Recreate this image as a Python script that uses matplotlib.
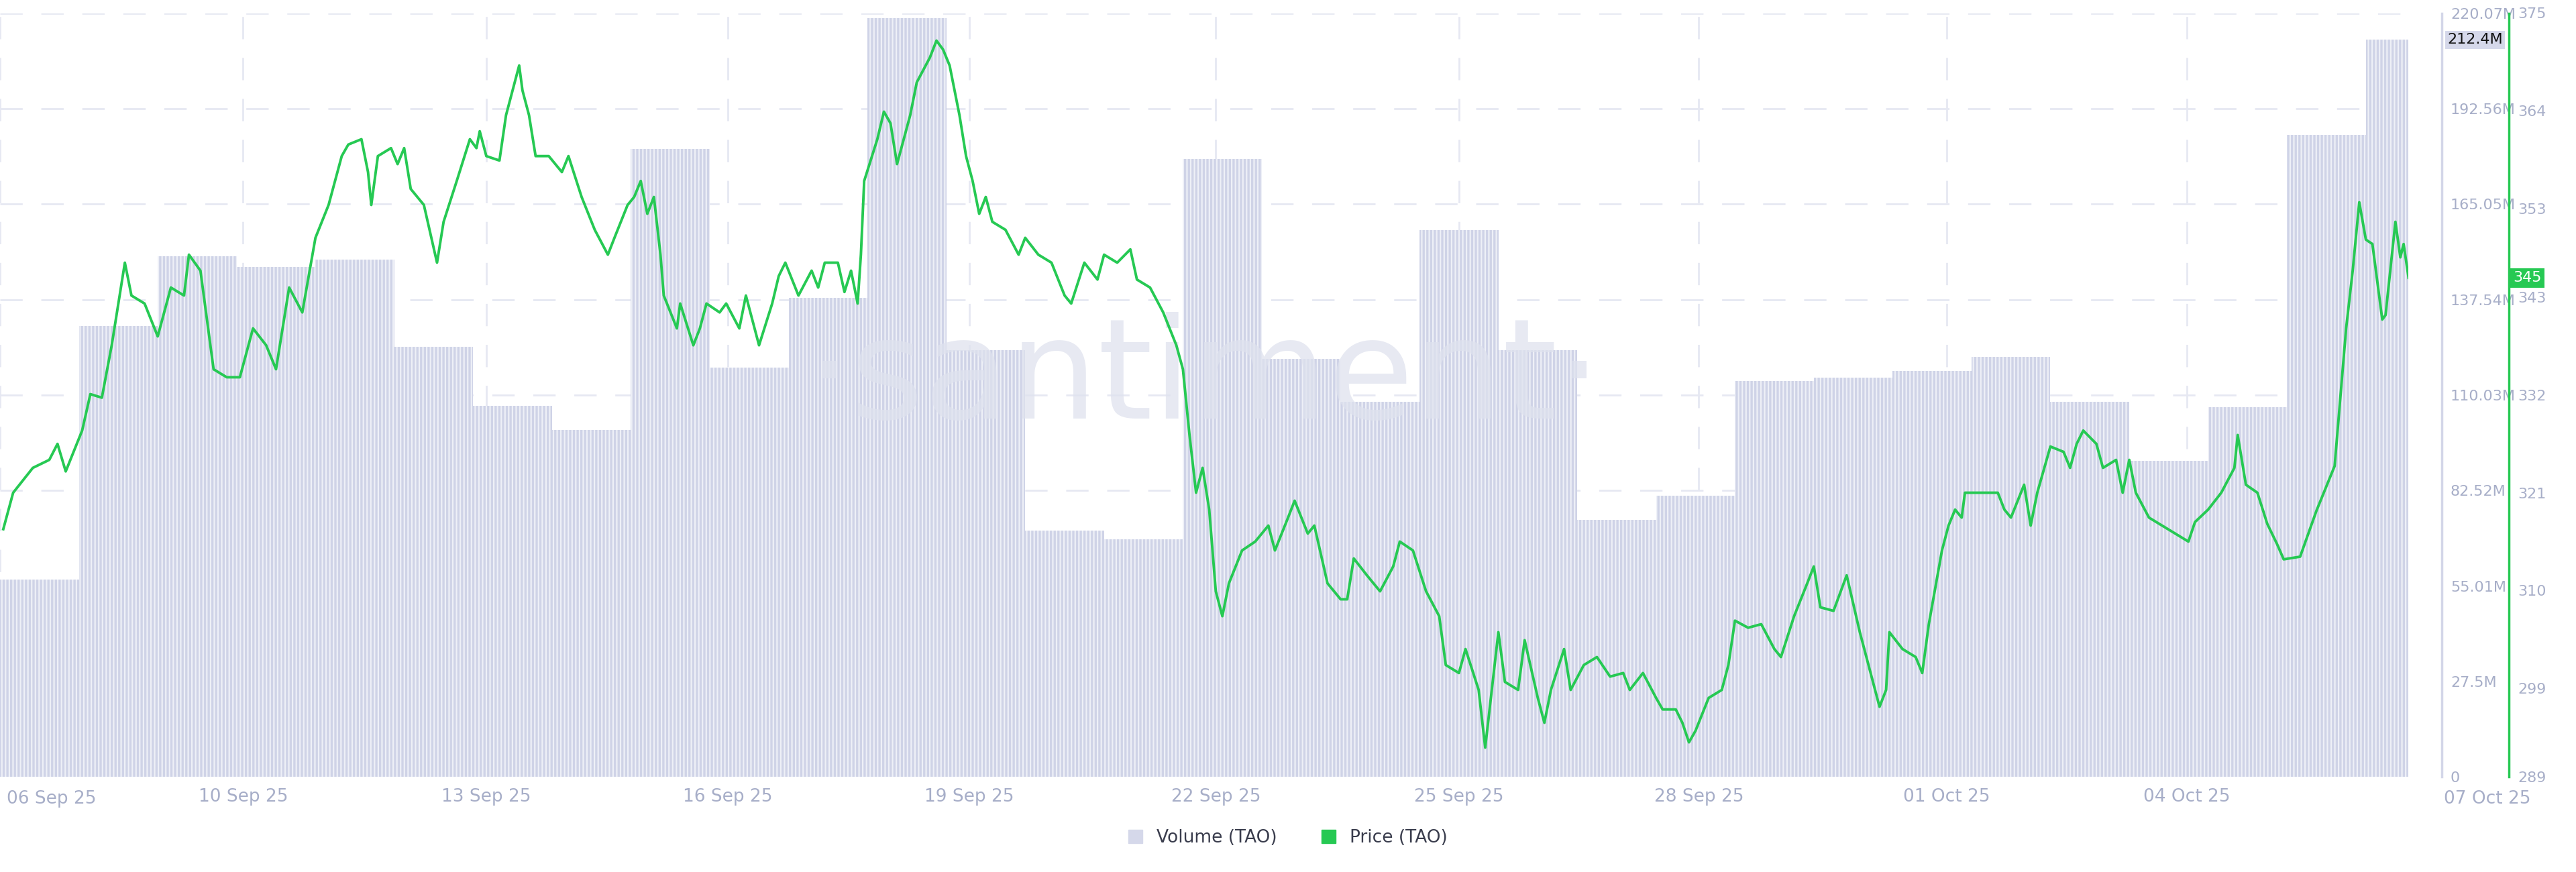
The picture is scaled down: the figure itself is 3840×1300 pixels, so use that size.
import numpy as np
import matplotlib.pyplot as plt
import matplotlib.patches as mpatches

plt.rcParams["hatch.linewidth"] = 1.6

# daily volume (TAO), millions, one bar per day
volume_m = [56.9, 130, 150, 147, 149, 124, 107, 100, 181, 118, 138, 218.6, 123, 71,
            68.5, 178, 120.5, 108, 157.5, 123, 74, 81, 114, 115, 117, 121, 108, 91,
            106.5, 185, 212.4]

# price (TAO): hours since chart start, price in USD
price_hours = [1, 4, 10, 15, 17.5, 20, 25, 27.5, 31, 34, 38, 40, 44, 48, 52, 56, 57.5, 61, 65, 69,
               73, 77, 81, 84, 88, 92, 96, 100, 104, 106, 110, 112, 113, 115, 119, 121, 123, 125, 129, 133,
               135, 139, 143, 145, 146, 148, 152, 154, 156, 158, 159, 161, 163, 167, 171, 173, 177, 181, 185, 187,
               191, 193, 195, 197, 199, 201, 202, 206, 207, 211, 213, 215, 219, 221, 225, 227, 231, 235, 237, 239,
               243, 247, 249, 251, 255, 257, 259, 261, 262, 263, 267, 269, 271, 273, 277, 279, 283, 285, 287, 289,
               292, 294, 296, 298, 300, 302, 306, 310, 312, 316, 320, 324, 326, 330, 334, 336, 340, 344, 346, 350,
               354, 358, 360, 362, 364, 366, 368, 370, 372, 374, 378, 382, 386, 388, 392, 394, 398, 400, 404, 408,
               410, 412, 416, 420, 424, 426, 430, 434, 438, 440, 444, 446, 450, 452, 454, 456, 458, 462, 464, 468,
               470, 472, 476, 478, 482, 486, 490, 494, 496, 500, 504, 506, 510, 512, 514, 516, 520, 524, 526, 528,
               532, 536, 540, 542, 546, 550, 552, 554, 558, 562, 566, 570, 572, 574, 575, 579, 583, 585, 587, 591,
               593, 595, 597, 598, 604, 608, 610, 612, 616, 618, 620, 624, 628, 630, 632, 634, 638, 640, 644, 646,
               648, 650, 654, 658, 662, 666, 668, 672, 676, 680, 681, 683.5, 687, 690, 693, 695, 700, 705, 710.5, 714,
               716, 718, 720, 722, 725, 726, 729, 730.5, 731.5, 733]
price_usd = [316.9, 321.0, 323.8, 324.7, 326.5, 323.4, 328.0, 332.1, 331.7, 337.6, 346.9, 343.2, 342.3, 338.6, 344.1, 343.2, 347.8, 346.0, 334.9, 334.0,
             334.0, 339.5, 337.6, 334.9, 344.1, 341.3, 349.7, 353.4, 358.9, 360.2, 360.8, 357.1, 353.4, 358.9, 359.8, 358.0, 359.8, 355.2, 353.4, 346.9,
             351.5, 356.1, 360.8, 359.8, 361.7, 358.9, 358.4, 363.5, 366.3, 369.1, 366.3, 363.5, 358.9, 358.9, 357.1, 358.9, 354.3, 350.6, 347.8, 349.7,
             353.4, 354.3, 356.1, 352.4, 354.3, 347.8, 343.2, 339.5, 342.3, 337.6, 339.5, 342.3, 341.3, 342.3, 339.5, 343.2, 337.6, 342.3, 345.4, 346.9,
             343.2, 346.0, 344.1, 346.9, 346.9, 343.6, 346.0, 342.3, 347.8, 356.1, 360.8, 363.9, 362.6, 358.0, 363.5, 367.2, 370.0, 371.9, 370.9, 369.1,
             363.5, 358.9, 356.1, 352.4, 354.3, 351.5, 350.6, 347.8, 349.7, 347.8, 346.9, 343.2, 342.3, 346.9, 345.0, 347.8, 346.9, 348.4, 345.0, 344.1,
             341.3, 337.6, 334.9, 327.5, 321.0, 323.8, 319.1, 309.9, 307.1, 310.8, 314.5, 315.5, 317.3, 314.5, 318.2, 320.1, 316.4, 317.3, 310.8, 309.0,
             309.0, 313.6, 311.7, 309.9, 312.7, 315.5, 314.5, 309.9, 307.1, 301.6, 300.7, 303.4, 298.8, 292.3, 298.8, 305.3, 299.7, 298.8, 304.4, 297.9,
             295.1, 298.8, 303.4, 298.8, 301.6, 302.5, 300.3, 300.7, 298.8, 300.7, 297.9, 296.6, 296.6, 295.1, 292.9, 294.2, 297.9, 298.8, 301.6, 306.6,
             305.8, 306.2, 303.4, 302.5, 307.1, 310.8, 312.7, 308.1, 307.7, 311.7, 305.3, 299.7, 296.9, 298.8, 305.3, 303.4, 302.5, 300.7, 306.2, 314.5,
             317.3, 319.1, 318.2, 321.0, 321.0, 321.0, 319.1, 318.2, 321.9, 317.3, 321.0, 326.2, 325.6, 323.8, 326.5, 328.0, 326.5, 323.8, 324.7, 321.0,
             324.7, 321.0, 318.2, 317.3, 316.4, 315.5, 317.7, 319.1, 321.0, 323.8, 327.5, 321.9, 321.0, 317.5, 315.2, 313.5, 313.8, 319.0, 324.0, 339.5,
             346.0, 353.7, 349.5, 349.0, 340.5, 341.0, 351.5, 347.5, 349.0, 345.2]

vol_ticks = [0, 27.5, 55.01, 82.52, 110.03, 137.54, 165.05, 192.56, 220.07]
vol_tick_labels = ["0", "27.5M", "55.01M", "82.52M", "110.03M", "137.54M", "165.05M", "192.56M", "220.07M"]
price_ticks = [289, 299, 310, 321, 332, 343, 353, 364, 375]
date_hours = [74, 148, 221.5, 295, 370, 444, 517, 592.5, 665.5]
date_labels = ["10 Sep 25", "13 Sep 25", "16 Sep 25", "19 Sep 25", "22 Sep 25",
               "25 Sep 25", "28 Sep 25", "01 Oct 25", "04 Oct 25"]

GRID = "#e6e8f2"
TICK = "#a7aec8"
GREEN = "#26c953"
BAR = "#cfd3e7"
NARROW = ["Liberation Sans Narrow", "DejaVu Sans"]

fig = plt.figure(figsize=(38.4, 13), dpi=100)
ax = fig.add_axes([0, 0.109, 0.935, 0.876])
ax2 = ax.twinx()

# volume bars
x_left = np.arange(len(volume_m)) * 24
ax.bar(x_left, volume_m, width=24, align="edge", color=BAR, edgecolor="#eef0f7",
       linewidth=0, hatch="|||", zorder=1)
ax.set_xlim(0, 733)
ax.set_ylim(0, 220.07)

for v in vol_ticks[1:]:
    ax.axhline(v, color=GRID, lw=2, dashes=(12, 10), zorder=0)
ax.axvline(0, color=GRID, lw=2, dashes=(12, 10), zorder=0)
for h in date_hours:
    ax.axvline(h, color=GRID, lw=2, dashes=(12, 10), zorder=0)

ax.text(0.5, 0.52, "·santiment·", transform=ax.transAxes, ha="center", va="center",
        fontsize=150, color="#dfe2ee", alpha=0.75, zorder=2)

ax.set_xticks(date_hours)
ax.set_xticklabels(date_labels)
ax.tick_params(axis="x", length=0, pad=12, labelsize=19, labelcolor=TICK)
for t in ax.get_xticklabels():
    t.set_family(NARROW)
ax.text(2, -0.017, "06 Sep 25", transform=ax.get_xaxis_transform(), ha="left", va="top",
        fontsize=19, color=TICK, family=NARROW, clip_on=False)
ax.text(757, -0.017, "07 Oct 25", transform=ax.get_xaxis_transform(), ha="center", va="top",
        fontsize=19, color=TICK, family=NARROW, clip_on=False)

ax.yaxis.tick_right()
ax.set_yticks(vol_ticks)
ax.set_yticklabels(vol_tick_labels)
ax.tick_params(axis="y", length=0, pad=9, labelsize=16, labelcolor=TICK)
for s in ["top", "left", "bottom"]:
    ax.spines[s].set_visible(False)
ax.spines["right"].set_position(("outward", 36))
ax.spines["right"].set_color("#d3d6e8")
ax.spines["right"].set_linewidth(2.5)

# price line
ax2.plot(price_hours, price_usd, color=GREEN, lw=2.8, zorder=3)
ax2.set_ylim(289, 375)
ax2.set_yticks(price_ticks)
ax2.tick_params(axis="y", length=0, pad=9, labelsize=16, labelcolor=TICK)
for s in ["top", "left", "bottom"]:
    ax2.spines[s].set_visible(False)
ax2.spines["right"].set_position(("outward", 108))
ax2.spines["right"].set_color(GREEN)
ax2.spines["right"].set_linewidth(2.5)

# last value badges
ax.text(1.0 + 58 / 3590, volume_m[-1], "212.4M", transform=ax.get_yaxis_transform(), ha="left",
        va="center", fontsize=16, color="#111111", clip_on=False,
        bbox=dict(boxstyle="square,pad=0.15", fc="#d5d8ea", ec="none"))
ax2.text(1.0 + 156 / 3590, price_usd[-1], "345", transform=ax2.get_yaxis_transform(), ha="left",
         va="center", fontsize=16, color="white", clip_on=False,
         bbox=dict(boxstyle="square,pad=0.2", fc=GREEN, ec="none"))

# legend
handles = [mpatches.Patch(color="#d5d8ea", label="Volume (TAO)"),
           mpatches.Patch(color=GREEN, label="Price (TAO)")]
fig.legend(handles=handles, loc="center", bbox_to_anchor=(0.5, 0.039), ncol=2, frameon=False,
           fontsize=19, handlelength=0.8, handleheight=0.8, columnspacing=2.5, labelcolor="#3a3d4d")

fig.savefig("out.png", dpi=100)
